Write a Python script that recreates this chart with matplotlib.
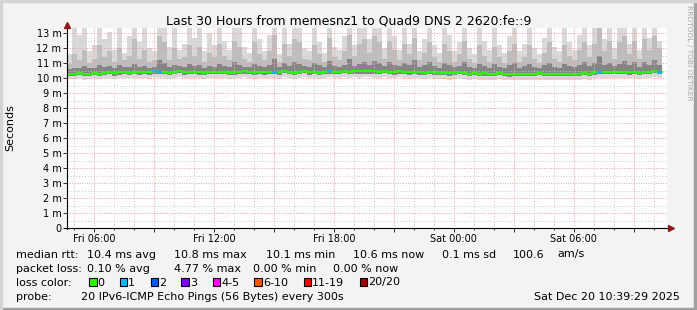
import datetime as dt

import matplotlib
matplotlib.use("Agg")
import matplotlib.dates as mdates
import matplotlib.pyplot as plt
import numpy as np
from matplotlib.lines import Line2D
from matplotlib.patches import Rectangle
from matplotlib.ticker import FixedLocator, FuncFormatter, MultipleLocator

plt.rcParams["font.family"] = ["DejaVu Sans"]

W, H = 697, 310

title = "Last 30 Hours from memesnz1 to Quad9 DNS 2 2620:fe::9"
start = dt.datetime(2025, 12, 19, 4, 39, 29)
end = dt.datetime(2025, 12, 20, 10, 39, 29)
step_min = 15

# median rtt per 15 min bin (ms)
med = [
    10.30, 10.28, 10.32, 10.27, 10.30, 10.33, 10.29, 10.35, 10.42, 10.31,
    10.38, 10.40, 10.36, 10.42, 10.38, 10.40, 10.37, 10.44, 10.42, 10.39,
    10.36, 10.40, 10.45, 10.37, 10.40, 10.42, 10.38, 10.36, 10.40, 10.43,
    10.39, 10.41, 10.36, 10.38, 10.40, 10.44, 10.41, 10.37, 10.40, 10.38,
    10.42, 10.40, 10.37, 10.45, 10.39, 10.36, 10.41, 10.47, 10.38, 10.42,
    10.36, 10.40, 10.44, 10.39, 10.42, 10.45, 10.42, 10.44, 10.44, 10.44,
    10.44, 10.44, 10.40, 10.46, 10.41, 10.38, 10.44, 10.40, 10.37, 10.42,
    10.38, 10.35, 10.40, 10.37, 10.33, 10.36, 10.31, 10.34, 10.38, 10.32,
    10.30, 10.34, 10.28, 10.31, 10.27, 10.30, 10.33, 10.28, 10.25, 10.29,
    10.27, 10.30, 10.26, 10.28, 10.31, 10.27, 10.29, 10.26, 10.30, 10.28,
    10.27, 10.30, 10.28, 10.33, 10.30, 10.38, 10.40, 10.42, 10.39, 10.41,
    10.40, 10.43, 10.38, 10.41, 10.36, 10.42, 10.39, 10.45, 10.40,
]

# smoke: lowest ping, lower quartile, upper quartile, 90th pct, highest ping (ms)
s_min = [
    9.95, 9.92, 9.97, 9.90, 9.94, 9.98, 9.93, 9.99, 10.02, 9.95,
    9.99, 10.01, 9.97, 10.03, 9.98, 10.00, 9.96, 10.04, 10.01, 9.98,
    9.96, 10.00, 10.05, 9.97, 10.00, 10.02, 9.97, 9.95, 10.00, 10.03,
    9.98, 10.01, 9.95, 9.98, 10.00, 10.04, 10.01, 9.96, 10.00, 9.97,
    10.02, 10.00, 9.96, 10.05, 9.98, 9.95, 10.01, 10.06, 9.97, 10.02,
    9.95, 10.00, 10.04, 9.98, 10.02, 10.05, 10.02, 10.04, 10.03, 10.05,
    10.04, 10.03, 10.00, 10.06, 10.01, 9.97, 10.04, 10.00, 9.96, 10.02,
    9.97, 9.94, 10.00, 9.96, 9.92, 9.95, 9.90, 9.93, 9.98, 9.91,
    9.89, 9.93, 9.87, 9.90, 9.86, 9.89, 9.92, 9.87, 9.84, 9.88,
    9.86, 9.89, 9.85, 9.87, 9.90, 9.86, 9.88, 9.85, 9.89, 9.87,
    9.86, 9.89, 9.87, 9.92, 9.89, 9.97, 10.00, 10.02, 9.98, 10.01,
    10.00, 10.03, 9.97, 10.01, 9.95, 10.02, 9.98, 10.05, 10.00,
]
s_p25 = [
    10.16, 10.13, 10.18, 10.12, 10.15, 10.19, 10.14, 10.20, 10.27, 10.16,
    10.23, 10.26, 10.21, 10.28, 10.23, 10.25, 10.22, 10.30, 10.27, 10.24,
    10.21, 10.26, 10.31, 10.22, 10.25, 10.28, 10.23, 10.21, 10.26, 10.29,
    10.24, 10.27, 10.21, 10.23, 10.26, 10.30, 10.27, 10.22, 10.25, 10.23,
    10.28, 10.26, 10.22, 10.31, 10.24, 10.21, 10.27, 10.33, 10.23, 10.28,
    10.21, 10.26, 10.30, 10.24, 10.28, 10.31, 10.28, 10.30, 10.29, 10.30,
    10.30, 10.29, 10.26, 10.32, 10.27, 10.23, 10.30, 10.26, 10.22, 10.28,
    10.23, 10.20, 10.26, 10.22, 10.18, 10.21, 10.16, 10.19, 10.24, 10.17,
    10.15, 10.20, 10.13, 10.16, 10.12, 10.15, 10.19, 10.13, 10.10, 10.14,
    10.12, 10.16, 10.11, 10.13, 10.17, 10.12, 10.14, 10.11, 10.16, 10.13,
    10.12, 10.16, 10.13, 10.19, 10.15, 10.23, 10.26, 10.28, 10.24, 10.27,
    10.26, 10.29, 10.23, 10.27, 10.21, 10.28, 10.24, 10.31, 10.26,
]
s_p75 = [
    10.62, 10.70, 10.66, 10.78, 10.64, 10.69, 10.85, 10.72, 10.80, 10.68,
    10.90, 10.74, 10.71, 10.95, 10.76, 10.82, 10.70, 10.73, 11.20, 10.98,
    10.72, 10.86, 10.79, 10.74, 10.92, 10.77, 10.88, 10.70, 10.83, 10.75,
    10.94, 10.78, 10.72, 11.05, 10.90, 10.76, 10.71, 10.96, 10.80, 10.73,
    10.85, 11.30, 10.74, 10.99, 10.80, 11.10, 10.92, 10.78, 10.72, 11.02,
    10.84, 10.74, 11.15, 10.79, 10.76, 10.88, 11.25, 10.80, 10.95, 11.05,
    10.86, 11.12, 10.98, 10.79, 11.08, 10.90, 10.77, 11.00, 10.84, 11.18,
    10.76, 10.88, 11.05, 10.80, 10.70, 10.98, 10.86, 10.72, 10.82, 11.10,
    10.74, 10.66, 10.96, 10.80, 10.70, 10.92, 10.76, 10.66, 10.84, 11.00,
    10.70, 10.78, 10.95, 10.72, 10.64, 10.86, 10.98, 10.74, 10.70, 10.94,
    10.78, 10.72, 10.88, 11.06, 10.80, 11.00, 11.45, 10.86, 11.02, 10.78,
    10.96, 11.15, 10.84, 11.05, 10.76, 11.10, 10.88, 11.20, 10.90,
]
s_p90 = [
    10.95, 11.6, 11.2, 11.9, 11.0, 11.3, 12.2, 11.4, 11.8, 11.1,
    12.0, 11.2, 11.5, 12.6, 11.3, 11.9, 11.1, 11.2, 12.8, 12.4,
    11.2, 12.0, 11.3, 11.4, 12.2, 11.5, 12.1, 11.1, 11.7, 11.4,
    12.3, 11.5, 11.2, 12.5, 12.1, 11.3, 11.1, 12.4, 11.6, 11.2,
    11.8, 12.9, 11.1, 12.3, 11.5, 12.6, 12.4, 11.3, 11.2, 12.2,
    11.6, 11.1, 12.7, 11.4, 11.2, 11.8, 12.9, 11.5, 12.3, 12.6,
    11.7, 12.8, 12.4, 11.3, 12.5, 11.9, 11.2, 12.3, 11.6, 12.7,
    11.2, 11.7, 12.4, 11.4, 11.1, 12.3, 11.8, 11.1, 11.6, 12.5,
    11.3, 11.0, 12.2, 11.5, 11.1, 12.1, 11.4, 11.0, 11.8, 12.3,
    11.1, 11.4, 12.2, 11.3, 11.0, 11.7, 12.4, 11.3, 11.1, 12.2,
    11.5, 11.2, 11.9, 12.4, 11.4, 12.3, 13.4, 11.8, 12.5, 11.3,
    12.4, 12.8, 11.6, 12.5, 11.3, 12.6, 11.9, 12.8, 12.0,
]
s_max = [
    11.6, 13.4, 12.9, 13.4, 11.8, 12.2, 13.4, 12.6, 13.1, 11.9,
    13.4, 11.7, 12.8, 13.4, 12.4, 13.4, 12.0, 11.8, 13.4, 13.4,
    12.1, 13.4, 11.9, 12.3, 13.4, 12.7, 13.4, 11.8, 13.0, 12.2,
    13.4, 12.5, 11.9, 13.4, 13.4, 12.1, 11.7, 13.4, 12.6, 11.8,
    12.9, 13.4, 11.6, 13.4, 12.3, 13.4, 13.4, 12.0, 11.8, 13.4,
    12.4, 11.7, 13.4, 12.1, 11.9, 12.8, 13.4, 12.2, 13.4, 13.4,
    12.6, 13.4, 13.4, 12.0, 13.4, 12.8, 11.9, 13.4, 12.3, 13.4,
    11.8, 12.6, 13.4, 12.2, 11.7, 13.4, 12.9, 11.8, 12.4, 13.4,
    12.0, 11.6, 13.4, 12.5, 11.9, 13.4, 12.2, 11.7, 12.8, 13.4,
    11.8, 12.3, 13.4, 12.0, 11.6, 12.7, 13.4, 12.1, 11.8, 13.4,
    12.4, 11.9, 12.9, 13.4, 12.2, 13.4, 13.4, 12.6, 13.4, 12.0,
    13.4, 13.4, 12.3, 13.4, 11.9, 13.4, 12.7, 13.4, 12.5,
]

# bins that lost one ping out of 20
loss_bins = [17, 18, 41, 52, 106, 118]

loss_labels = ["0", "1", "2", "3", "4-5", "6-10", "11-19", "20/20"]
loss_colors = ["#26ff00", "#00b8ff", "#0059ff", "#7e00ff",
               "#ff00ff", "#ff5500", "#ff0000", "#a10000"]
loss_x = [89, 119.5, 150.5, 181.5, 212.5, 254.5, 303.5, 359.5]

rtt_stats = [("10.4 ms avg", 87), ("10.8 ms max", 174), ("10.1 ms min", 266),
             ("10.6 ms now", 353), ("0.1 ms sd", 442), ("100.6", 513), ("am/s", 557)]
loss_stats = [("0.10 % avg", 87), ("4.77 % max", 174), ("0.00 % min", 253),
              ("0.00 % now", 333)]
probe_text = "20 IPv6-ICMP Echo Pings (56 Bytes) every 300s"
stamp = "Sat Dec 20 10:39:29 2025"


def fx(px):
    return px / W


def fy(py):
    return 1 - py / H


fig = plt.figure(figsize=(W / 100, H / 100), dpi=100, facecolor="#f3f3f3")

# 3d-ish frame
fig.patches.append(Rectangle((0, 0), 1, 2 / H, transform=fig.transFigure, color="#a0a0a0"))
fig.patches.append(Rectangle((1 - 3 / W, 0), 3 / W, 1, transform=fig.transFigure, color="#a0a0a0"))
fig.patches.append(Rectangle((0, 1 - 2 / H), 1, 2 / H, transform=fig.transFigure, color="#d4d4d4"))
fig.patches.append(Rectangle((0, 0), 2 / W, 1, transform=fig.transFigure, color="#d4d4d4"))

ax = fig.add_axes([fx(67), fy(228), 600 / W, 200 / H])
ax.set_facecolor("white")
for s in ax.spines.values():
    s.set_visible(False)

n = len(med)
edges = [start + dt.timedelta(minutes=step_min * i) for i in range(n + 1)]


def ext(a):
    return np.append(a, a[-1])


ax.fill_between(edges, ext(s_min), ext(s_max), step="post", color="#d9d9d9", lw=0, zorder=1)
ax.fill_between(edges, ext(s_p25), ext(s_p90), step="post", color="#bdbdbd", lw=0, zorder=1)
ax.fill_between(edges, ext(s_p25), ext(s_p75), step="post", color="#858585", lw=0, zorder=1)

ax.step(edges, ext(med), where="post", color=loss_colors[0], lw=1.5, zorder=3)
for b in loss_bins:
    ax.hlines(med[b], edges[b], edges[b + 1], color=loss_colors[1], lw=1.5, zorder=3.5)

ax.set_xlim(start, end)
ax.set_ylim(0, 200 / 15)

ax.xaxis.set_major_locator(mdates.HourLocator(byhour=range(0, 24, 3)))
ax.xaxis.set_minor_locator(mdates.HourLocator())


def xfmt(x, pos):
    d = mdates.num2date(x)
    return d.strftime("%a %H:%M") if d.hour % 6 == 0 else ""


ax.xaxis.set_major_formatter(FuncFormatter(xfmt))
ax.yaxis.set_major_locator(FixedLocator(range(0, 14)))
ax.yaxis.set_minor_locator(MultipleLocator(0.5))
ax.yaxis.set_major_formatter(FuncFormatter(lambda v, p: "0" if v == 0 else f"{int(v)} m"))

ax.set_axisbelow(False)
ax.grid(which="minor", color="#c8c8c8", lw=0.7, ls=(0, (1, 2)))
ax.grid(which="major", color="#f4a0a0", lw=0.7, ls=(0, (1, 1.5)))

ax.tick_params(axis="both", which="major", labelsize=7, color="#333333", width=0.7)
ax.tick_params(axis="y", which="major", length=3, pad=1)
ax.tick_params(axis="y", which="minor", length=0)
ax.tick_params(axis="x", which="major", length=3, pad=1.5)
ax.tick_params(axis="x", which="minor", length=1.5, color="#333333", width=0.7)

# axes with arrows
fig.add_artist(Line2D([fx(67), fx(67)], [fy(229), fy(25)], transform=fig.transFigure, color="black", lw=0.8))
fig.add_artist(Line2D([fx(64), fx(670)], [fy(228), fy(228)], transform=fig.transFigure, color="black", lw=0.8))
fig.add_artist(Line2D([fx(67)], [fy(24.5)], transform=fig.transFigure, marker="^", ms=4.5, color="#8c1a1a", lw=0))
fig.add_artist(Line2D([fx(671)], [fy(228)], transform=fig.transFigure, marker=">", ms=4.5, color="#8c1a1a", lw=0))

fig.text(fx(349), fy(24), title, ha="center", va="baseline", fontsize=9)
fig.text(fx(10), fy(128), "Seconds", rotation=90, ha="center", va="center", fontsize=8)
fig.text(fx(689), fy(5), "RRDTOOL / TOBI OETIKER", rotation=270, ha="center", va="top",
         fontsize=5.4, color="#a8a8a8")

fs = 8
fig.text(fx(16), fy(257.5), "median rtt:", fontsize=fs, va="baseline")
for t, x in rtt_stats:
    fig.text(fx(x), fy(257.5), t, fontsize=fs, va="baseline")
fig.text(fx(16), fy(271.5), "packet loss:", fontsize=fs, va="baseline")
for t, x in loss_stats:
    fig.text(fx(x), fy(271.5), t, fontsize=fs, va="baseline")
fig.text(fx(16), fy(285.5), "loss color:", fontsize=fs, va="baseline")
for lab, col, x in zip(loss_labels, loss_colors, loss_x):
    fig.patches.append(Rectangle((fx(x), fy(286)), 7.5 / W, 8.5 / H, transform=fig.transFigure,
                                 facecolor=col, edgecolor="black", lw=0.8))
    fig.text(fx(x + 8.5), fy(285.5), lab, fontsize=fs, va="baseline")
fig.text(fx(16), fy(299.5), "probe:", fontsize=fs, va="baseline")
fig.text(fx(81), fy(299.5), probe_text, fontsize=fs, va="baseline")
fig.text(fx(680), fy(299.5), stamp, fontsize=fs, va="baseline", ha="right")

fig.savefig("out.png", dpi=100, facecolor=fig.get_facecolor())
